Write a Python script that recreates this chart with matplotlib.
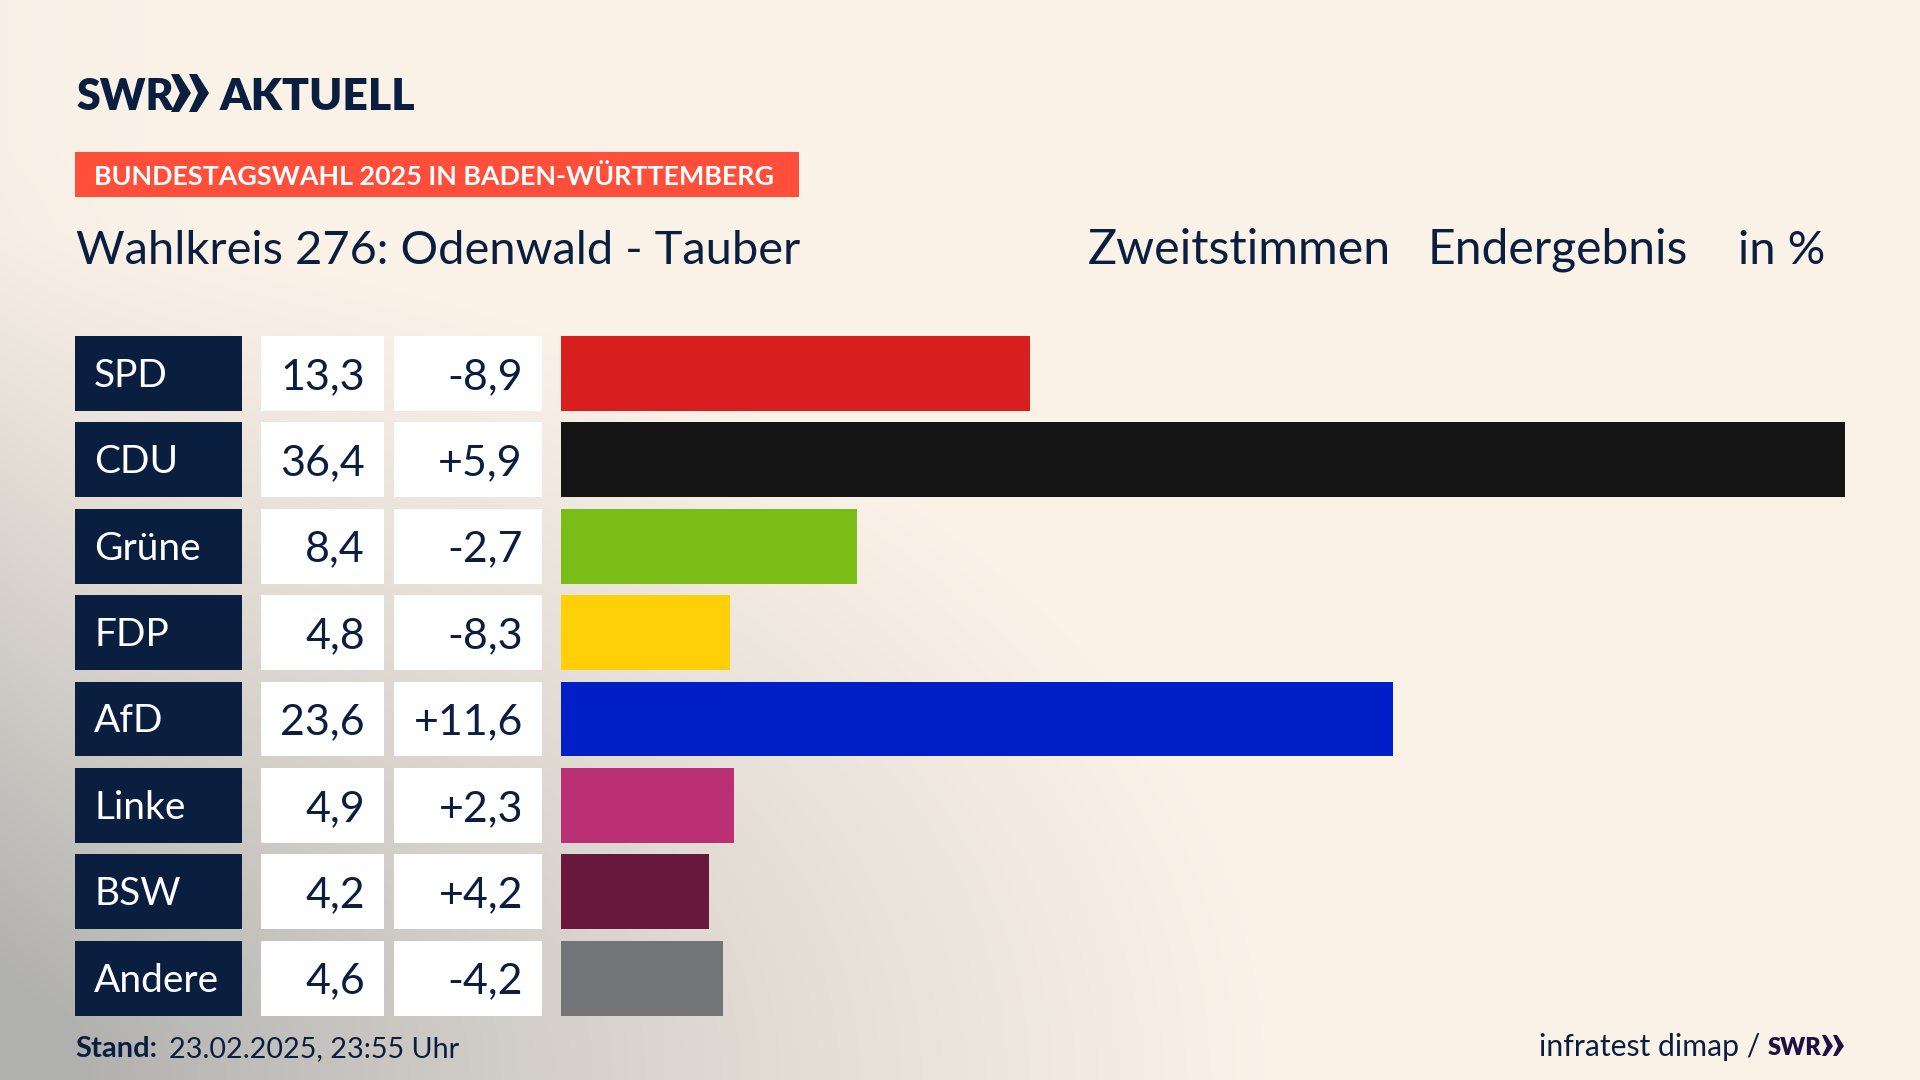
import numpy as np
import matplotlib
matplotlib.use("Agg")
import matplotlib.pyplot as plt
from matplotlib.patches import Rectangle, Polygon

parties = ["SPD", "CDU", "Grüne", "FDP", "AfD", "Linke", "BSW", "Andere"]
shares = [13.3, 36.4, 8.4, 4.8, 23.6, 4.9, 4.2, 4.6]
changes = ["-8,9", "+5,9", "-2,7", "-8,3", "+11,6", "+2,3", "+4,2", "-4,2"]
share_labels = ["13,3", "36,4", "8,4", "4,8", "23,6", "4,9", "4,2", "4,6"]
colors = ["#D81F1E", "#141414", "#7ABD19", "#FFCF08", "#001FC6", "#BB3074", "#68183D", "#737476"]

NAVY = "#0A1F3F"
W, H = 1920, 1080
fig = plt.figure(figsize=(19.2, 10.8), dpi=100)

# canvas in pixel coordinates
bg = fig.add_axes([0, 0, 1, 1])
bg.set_xlim(0, W); bg.set_ylim(H, 0); bg.axis("off")
yy, xx = np.mgrid[0:H:270j, 0:W:480j]
d = np.sqrt((xx / 1300) ** 2 + ((H - yy) / 850) ** 2)
t = np.clip(1 - d, 0, 1) ** 1.2 + 0.14 * np.exp(-xx / 120) * np.clip(yy / 500, 0.3, 1)
t = np.clip(t, 0, 1)[..., None]
cream = np.array([251, 242, 232]) / 255
gray = np.array([176, 176, 174]) / 255
bg.imshow(cream * (1 - t) + gray * t, extent=(0, W, H, 0), aspect="auto", zorder=0, interpolation="bilinear")
bg.set_xlim(0, W); bg.set_ylim(H, 0)

FONT = "Lato"
top, h, pitch = 336, 74.8, 86.4
for i, p in enumerate(parties):
    y = top + i * pitch
    cy = y + h / 2
    bg.add_patch(Rectangle((75, y), 167, h, fc=NAVY, ec="none", zorder=2))
    bg.add_patch(Rectangle((261, y), 123, h, fc="white", ec="none", zorder=2))
    bg.add_patch(Rectangle((394, y), 148, h, fc="white", ec="none", zorder=2))
    bg.text(94, cy - 1, p, color="white", fontsize=28, family=FONT, va="center_baseline", zorder=3)
    bg.text(365, cy, share_labels[i], color=NAVY, fontsize=31, family=FONT, ha="right", va="center_baseline", zorder=3)
    bg.text(523, cy, changes[i], color=NAVY, fontsize=31, family=FONT, ha="right", va="center_baseline", zorder=3)

# header
bg.text(76, 110, "SWR", color=NAVY, fontsize=31, fontweight="heavy", family=FONT, va="baseline", zorder=3)
for x0 in (171, 189):
    bg.add_patch(Polygon([(x0, 74), (x0 + 8, 74), (x0 + 20, 93), (x0 + 8, 112), (x0, 112), (x0 + 9, 93)],
                         fc=NAVY, ec="none", zorder=3))
bg.text(220, 110, "AKTUELL", color=NAVY, fontsize=32, fontweight="heavy", family=FONT, va="baseline", zorder=3)

bg.add_patch(Rectangle((75, 152), 724, 45, fc="#FF4F3B", ec="none", zorder=2))
bg.text(94, 174.5, "BUNDESTAGSWAHL 2025 IN BADEN-WÜRTTEMBERG", color="white", fontsize=19.4, fontweight="bold",
        family=FONT, va="center_baseline", zorder=3)

bg.text(76, 264, "Wahlkreis 276: Odenwald - Tauber", color=NAVY, fontsize=33.8, family=FONT, va="baseline", zorder=3)
bg.text(1088, 264, "Zweitstimmen", color=NAVY, fontsize=34.8, family=FONT, va="baseline", zorder=3)
bg.text(1428, 264, "Endergebnis", color=NAVY, fontsize=34.6, family=FONT, va="baseline", zorder=3)
bg.text(1738, 264, "in %", color=NAVY, fontsize=33.8, family=FONT, va="baseline", zorder=3)

# footer
bg.text(75, 1057, "Stand:", color=NAVY, fontsize=21, fontweight="bold", family=FONT, va="baseline", zorder=3)
bg.text(169, 1057, "23.02.2025, 23:55 Uhr", color=NAVY, fontsize=20.7, family=FONT, va="baseline", zorder=3)
bg.text(1760, 1056, "infratest dimap /", color=NAVY, fontsize=21.7, family=FONT, ha="right", va="baseline", zorder=3)
bg.text(1768, 1055, "SWR", color="#1E0F45", fontsize=17, fontweight="heavy", family=FONT, va="baseline", zorder=3)
for x0 in (1822, 1833):
    bg.add_patch(Polygon([(x0, 1035), (x0 + 4, 1035), (x0 + 11, 1046), (x0 + 4, 1056), (x0, 1056), (x0 + 5, 1046)],
                         fc="#1E0F45", ec="none", zorder=3))

# bars
ax = fig.add_axes([561 / W, 1 - (top + 7 * pitch + h) / H, (1845 - 561) / W, (7 * pitch + h) / H])
ax.patch.set_alpha(0)
ypos = np.arange(len(parties))
ax.barh(ypos, shares, height=h / pitch, color=colors)
ax.set_xlim(0, max(shares))
ax.set_ylim(len(parties) - 1 + h / pitch / 2, -h / pitch / 2)
ax.axis("off")

fig.savefig("out.png", dpi=100)
